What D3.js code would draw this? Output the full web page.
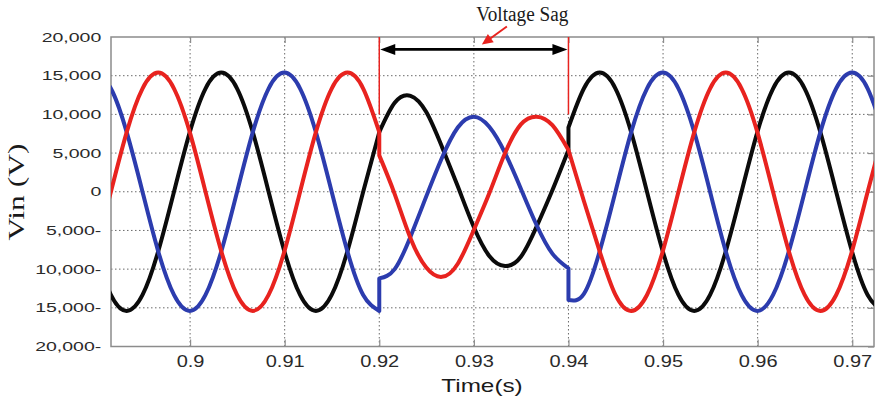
<!DOCTYPE html>
<html lang="en">
<head>
<meta charset="UTF-8">
<title>Voltage Sag</title>
<script src="https://d3js.org/d3.v7.min.js"></script>
<style>
body { margin: 0; background: #ffffff; }
.grid line { stroke: #6a6a6a; stroke-width: 1; stroke-dasharray: 1.5, 2.5; }
.wave { fill: none; stroke-width: 4; stroke-linejoin: round; stroke-linecap: round; }
.frame { fill: none; stroke: #8c8c8c; stroke-width: 1.5; }
.axis path { display: none; }
.axis line { stroke: #8c8c8c; stroke-width: 1.2; }
.axis text { font-family: "Liberation Sans", Arial, sans-serif; fill: #2a2a2a; }
</style>
</head>
<body>
<svg id="chart" width="877" height="401"></svg>
<script>
// sample times (s); 0.92 and 0.94 appear twice: value just before / just after the switching
const timeS = [0.88997, 0.89163, 0.8933, 0.89497, 0.89663, 0.8983, 0.89997, 0.90163, 0.9033, 0.90497,
  0.90663, 0.9083, 0.90997, 0.91163, 0.9133, 0.91497, 0.91663, 0.9183, 0.92, 0.92,
  0.92163, 0.9233, 0.92497, 0.92663, 0.9283, 0.92997, 0.93163, 0.9333, 0.93497, 0.93663,
  0.9383, 0.94, 0.94, 0.94163, 0.9433, 0.94497, 0.94663, 0.9483, 0.94997, 0.95163,
  0.9533, 0.95497, 0.95663, 0.9583, 0.95997, 0.96163, 0.9633, 0.96497, 0.96663, 0.9683,
  0.96997, 0.97163, 0.9733];

// phase voltages (V)
const phaseA = [-7700, -13340, -15400, -13340, -7700, 0, 7700, 13340, 15400, 13340,
  7700, 0, -7700, -13340, -15400, -13340, -7700, 0, 7700, 7700,
  11500, 12400, 10300, 5800, 700, -4500, -8300, -9600, -8400, -4500,
  200, 5400, 8300, 13340, 15400, 13340, 7700, 0, -7700, -13340,
  -15400, -13340, -7700, 0, 7700, 13340, 15400, 13340, 7700, 0,
  -7700, -13340, -15400];
const phaseB = [15400, 13340, 7700, 0, -7700, -13340, -15400, -13340, -7700, 0,
  7700, 13340, 15400, 13340, 7700, 0, -7700, -13340, -15400, -11200,
  -10000, -5800, -600, 4400, 8300, 9700, 8400, 5000, 400, -4300,
  -8000, -9900, -14000, -13200, -7700, 0, 7700, 13340, 15400, 13340,
  7700, 0, -7700, -13340, -15400, -13340, -7700, 0, 7700, 13340,
  15400, 13340, 7700];
const phaseC = [-7700, 0, 7700, 13340, 15400, 13340, 7700, 0, -7700, -13340,
  -15400, -13340, -7700, 0, 7700, 13340, 15400, 13340, 7700, 4700,
  -300, -6000, -9800, -11000, -9300, -5000, -200, 5000, 8700, 9700,
  8600, 5400, 5400, -1200, -7700, -13340, -15400, -13340, -7700, 0,
  7700, 13340, 15400, 13340, 7700, 0, -7700, -13340, -15400, -13340,
  -7700, 0, 7700];

const seriesNames = ["phaseA", "phaseB", "phaseC"];
const seriesColors = ["#0b0b0b", "#2c3cae", "#e8231f"];

const xTicks = [0.9, 0.91, 0.92, 0.93, 0.94, 0.95, 0.96, 0.97];
const xTickLabels = ["0.9", "0.91", "0.92", "0.93", "0.94", "0.95", "0.96", "0.97"];
const yTicks = [20000, 15000, 10000, 5000, 0, -5000, -10000, -15000, -20000];
const yTickLabels = ["20,000", "15,000", "10,000", "5,000", "0", "5,000-", "10,000-", "15,000-", "20,000-"];

// sag window and annotation level
const sagStart = 0.92, sagEnd = 0.94;
const arrowLevel = 18400, markerTop = 20000, markerBottom = 10000;

const svg = d3.select("#chart");
const margin = { top: 37, right: 3, bottom: 54.5, left: 111 };
const W = 877, H = 401;

const x = d3.scaleLinear().domain([0.89164, 0.9723]).range([margin.left, W - margin.right]);
const y = d3.scaleLinear().domain([-20000, 20000]).range([H - margin.bottom, margin.top]);

// clip
svg.append("defs").append("clipPath").attr("id", "plotclip")
  .append("rect")
  .attr("x", x.range()[0]).attr("y", y.range()[1])
  .attr("width", x.range()[1] - x.range()[0])
  .attr("height", y.range()[0] - y.range()[1]);

// dotted grid
const grid = svg.append("g").attr("class", "grid");
grid.selectAll(".vx").data(xTicks).join("line")
  .attr("x1", d => x(d)).attr("x2", d => x(d))
  .attr("y1", y(20000)).attr("y2", y(-20000));
grid.selectAll(".hy").data(yTicks.filter(d => Math.abs(d) < 20000)).join("line")
  .attr("x1", x.range()[0]).attr("x2", x.range()[1])
  .attr("y1", d => y(d)).attr("y2", d => y(d));

// axes (ticks inside, like the scope plot)
const xAxis = svg.append("g").attr("class", "axis")
  .attr("transform", `translate(0,${y(-20000)})`)
  .call(d3.axisBottom(x).tickValues(xTicks).tickFormat((d, i) => xTickLabels[i]).tickSize(-7).tickPadding(9));
xAxis.selectAll("text")
  .attr("font-size", 16)
  .attr("font-family", "Liberation Sans, Arial, sans-serif")
  .attr("transform", "scale(1.25,1)");

svg.append("g").attr("class", "axis")
  .attr("transform", `translate(0,${y(20000)})`)
  .call(d3.axisTop(x).tickValues(xTicks).tickFormat("").tickSize(-6));

svg.append("g").attr("class", "axis")
  .attr("transform", `translate(${x.range()[1]},0)`)
  .call(d3.axisRight(y).tickValues(yTicks).tickFormat("").tickSize(-6));

const yAxis = svg.append("g").attr("class", "axis")
  .attr("transform", `translate(${x.range()[0]},0)`)
  .call(d3.axisLeft(y).tickValues(yTicks).tickFormat((d, i) => yTickLabels[i]).tickSize(0).tickPadding(6.5));
yAxis.selectAll("text")
  .attr("font-size", 13)
  .attr("font-family", "Liberation Sans, Arial, sans-serif")
  .attr("transform", "scale(1.5,1)");

// frame
svg.append("rect").attr("class", "frame")
  .attr("x", x.range()[0]).attr("y", y.range()[1])
  .attr("width", x.range()[1] - x.range()[0])
  .attr("height", y.range()[0] - y.range()[1]);

// waveforms: split at repeated times so the jumps are vertical
const line = d3.line()
  .x(d => x(d[0]))
  .y(d => y(d[1]))
  .curve(d3.curveNatural);

function wavePath(values) {
  const segs = [[]];
  timeS.forEach((t, i) => {
    const seg = segs[segs.length - 1];
    if (seg.length && seg[seg.length - 1][0] === t) segs.push([[t, values[i]]]);
    else seg.push([t, values[i]]);
  });
  return segs.map((s, k) => {
    const p = line(s);
    return k === 0 ? p : "L" + p.slice(1);
  }).join("");
}

const allSeries = { phaseA, phaseB, phaseC };
const waves = svg.append("g").attr("clip-path", "url(#plotclip)");
seriesNames.forEach((name, i) => {
  waves.append("path")
    .attr("class", "wave")
    .attr("stroke", seriesColors[i])
    .attr("d", wavePath(allSeries[name]));
});

// sag markers
const ann = svg.append("g");
[sagStart, sagEnd].forEach(t => {
  ann.append("line")
    .attr("x1", x(t)).attr("x2", x(t))
    .attr("y1", y(markerTop)).attr("y2", y(markerBottom))
    .attr("stroke", "#e8231f").attr("stroke-width", 1.5);
});

function arrowHead(g, tipX, tipY, dx, dy, len, half, color) {
  const n = Math.hypot(dx, dy), ux = dx / n, uy = dy / n;
  const bx = tipX - ux * len, by = tipY - uy * len;
  g.append("path")
    .attr("d", `M${tipX},${tipY}L${bx - uy * half},${by + ux * half}L${bx + uy * half},${by - ux * half}Z`)
    .attr("fill", color);
}

// double arrow across the sag
const ay = y(arrowLevel);
ann.append("line")
  .attr("x1", x(sagStart) + 8).attr("x2", x(sagEnd) - 8)
  .attr("y1", ay).attr("y2", ay)
  .attr("stroke", "#000").attr("stroke-width", 2.6);
arrowHead(ann, x(sagStart) + 1, ay, -1, 0, 15, 5.5, "#000");
arrowHead(ann, x(sagEnd) - 1, ay, 1, 0, 15, 5.5, "#000");

// label + red pointer
const mid = x((sagStart + sagEnd) / 2);
ann.append("text")
  .attr("x", mid + 48.5).attr("y", 20.5)
  .attr("text-anchor", "middle")
  .attr("font-family", "Liberation Serif, 'Times New Roman', serif")
  .attr("font-size", 20)
  .attr("textLength", 92).attr("lengthAdjust", "spacingAndGlyphs")
  .attr("fill", "#1a1a1a")
  .text("Voltage Sag");
const p0 = [mid + 33, 26.5], p1 = [mid + 8, 44.5];
ann.append("line")
  .attr("x1", p0[0]).attr("y1", p0[1]).attr("x2", p1[0] + 6).attr("y2", p1[1] - 4.3)
  .attr("stroke", "#e8231f").attr("stroke-width", 2);
arrowHead(ann, p1[0], p1[1], p1[0] - p0[0], p1[1] - p0[1], 11, 5, "#e8231f");

// axis titles
svg.append("text")
  .attr("transform", "translate(24,192) rotate(-90)")
  .attr("text-anchor", "middle")
  .attr("font-family", "Liberation Serif, 'Times New Roman', serif")
  .attr("font-size", 24)
  .attr("textLength", 97).attr("lengthAdjust", "spacingAndGlyphs")
  .attr("fill", "#1a1a1a")
  .text("Vin (V)");

svg.append("text")
  .attr("transform", "translate(482,391.5) scale(1.35,1)")
  .attr("text-anchor", "middle")
  .attr("font-family", "Liberation Sans, Arial, sans-serif")
  .attr("font-size", 18)
  .attr("fill", "#1a1a1a")
  .text("Time(s)");
</script>
</body>
</html>
